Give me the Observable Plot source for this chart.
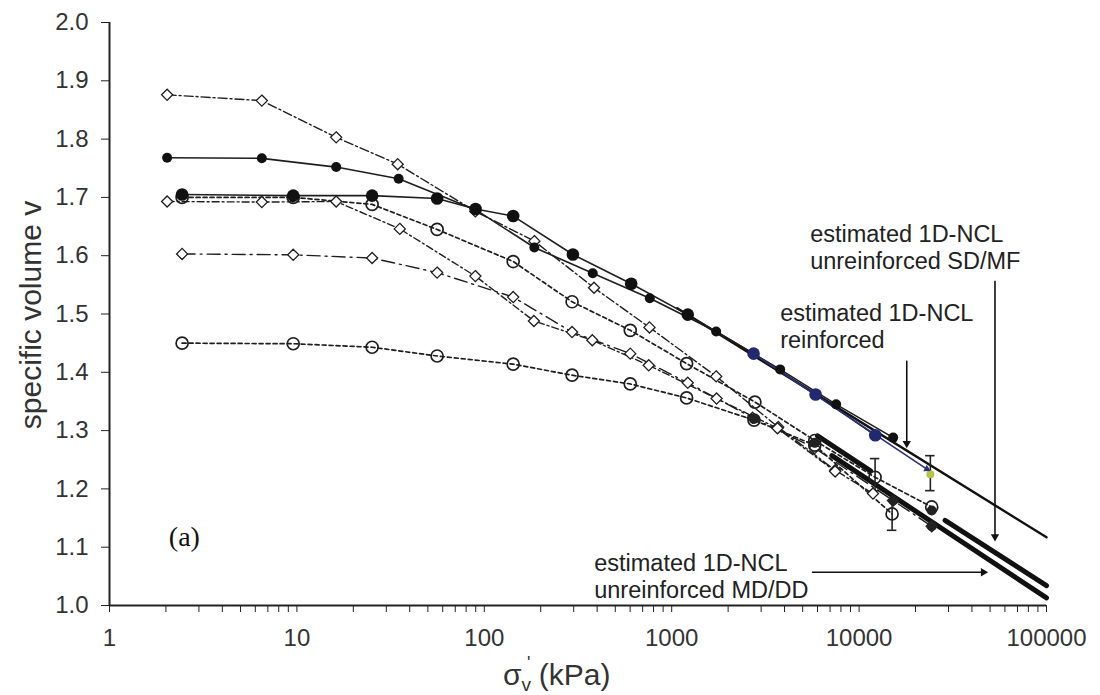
<!DOCTYPE html>
<html>
<head>
<meta charset="utf-8">
<script src="https://cdn.jsdelivr.net/npm/d3@7"></script>
<script src="https://cdn.jsdelivr.net/npm/@observablehq/plot@0.6"></script>
<style>
  html, body { margin: 0; padding: 0; background: #fff; }
  #chart { width: 1100px; height: 695px; }
</style>
</head>
<body>
<div id="chart"></div>
<script>
// ---------- axis ticks ----------
const yTicks = [1.0, 1.1, 1.2, 1.3, 1.4, 1.5, 1.6, 1.7, 1.8, 1.9, 2.0];
const xMajorTicks = [1, 10, 100, 1000, 10000, 100000];

// ---------- test series (vertical stress kPa, specific volume) ----------
// A: open diamonds, dash-dot (top)
const xA = [2.03, 6.5, 16.2, 34.5, 89.6, 185, 385, 761, 1727, 3700, 7450, 11860];
const vA = [1.876, 1.866, 1.803, 1.757, 1.676, 1.625, 1.545, 1.477, 1.393, 1.306, 1.232, 1.192];
// B: small filled circles, solid
const xB = [2.03, 6.5, 16.2, 34.9, 89.8, 185, 379, 764, 1727, 3790, 7540, 15200];
const vB = [1.768, 1.767, 1.752, 1.732, 1.679, 1.614, 1.570, 1.527, 1.470, 1.405, 1.345, 1.288];
// C: large filled circles, solid
const xC = [2.44, 9.56, 25.2, 56, 89.8, 142.6, 297, 608, 1218, 2735, 5860, 12200];
const vC = [1.705, 1.703, 1.703, 1.698, 1.680, 1.668, 1.602, 1.552, 1.499, 1.432, 1.362, 1.292];
// D: open diamonds, dash-dot
const xD = [2.03, 6.5, 16.2, 35.4, 89.6, 184, 377, 754, 1736, 3667, 7450];
const vD = [1.693, 1.692, 1.693, 1.646, 1.565, 1.488, 1.455, 1.412, 1.355, 1.304, 1.230];
// E: open circles, dashed
const xE = [2.44, 9.56, 25.2, 56, 142.6, 294, 601, 1201, 2780, 5800, 12170, 24400];
const vE = [1.700, 1.700, 1.688, 1.645, 1.590, 1.521, 1.472, 1.415, 1.349, 1.283, 1.220, 1.169];
// F: open diamonds, long dash-dot
const xF = [2.44, 9.56, 25.2, 56, 142.6, 294, 601, 1218, 2700, 5800, 15200, 24400];
const vF = [1.603, 1.6015, 1.596, 1.571, 1.529, 1.469, 1.432, 1.382, 1.322, 1.270, 1.180, 1.136];
// G: open circles, dashed (bottom)
const xG = [2.44, 9.56, 25.2, 56, 142.6, 294, 601, 1201, 2750, 5800, 15000];
const vG = [1.450, 1.449, 1.443, 1.428, 1.414, 1.395, 1.380, 1.356, 1.318, 1.275, 1.157];

// dark (filled) points in the high-stress cluster
const xDark = [2750, 5800, 15200, 24400, 24400];
const vDark = [1.320, 1.279, 1.180, 1.163, 1.136];

// error bars
const errX  = [12170, 15000, 24000];
const errLo = [1.197, 1.129, 1.197];
const errHi = [1.252, 1.180, 1.257];
// highlighted final point (reinforced)
const greenX = [24000];
const greenV = [1.225];

// trend arrow of reinforced test (navy)
const trendX = [2735, 23000];
const trendV = [1.432, 1.234];

// estimated 1D-NCLs
const nclReinfX = [1070, 100000];
const nclReinfV = [1.510, 1.117];
const nclSDMFX = [6000, 11500, 28760, 100000];
const nclSDMFV = [1.291, 1.231, 1.146, 1.034];
const nclSDMFSeg = [0, 0, 1, 1];
const nclMDDDX = [7160, 100000];
const nclMDDDV = [1.257, 1.013];

// annotations
const annText = ["estimated 1D-NCL\nunreinforced SD/MF", "estimated 1D-NCL\nreinforced", "estimated 1D-NCL\nunreinforced MD/DD"];
const annX = [5480, 3790, 386];
const annV = [1.615, 1.4794, 1.0515];
// annotation arrows (x1, v1) -> (x2, v2)
const arrX1 = [53100, 17960, 5600];
const arrV1 = [1.557, 1.420, 1.057];
const arrX2 = [53100, 17960, 46000];
const arrV2 = [1.118, 1.278, 1.057];
const arrRot = [180, 180, 90];

const panelLabel = "(a)";
const panelX = 2.51, panelV = 1.1166;

// ---------- build tables ----------
const zip = (s, xs, vs) => xs.map((x, i) => ({s, x, v: vs[i]}));
const A = zip("A", xA, vA), B = zip("B", xB, vB), C = zip("C", xC, vC),
      D = zip("D", xD, vD), E = zip("E", xE, vE), F = zip("F", xF, vF), G = zip("G", xG, vG);
const darkPts = zip("dark", xDark, vDark);
const errData = errX.map((x, i) => ({x, lo: errLo[i], hi: errHi[i]}));
const errCaps = errData.flatMap(d => [{x: d.x, v: d.lo}, {x: d.x, v: d.hi}]);
const greenData = greenX.map((x, i) => ({x, v: greenV[i]}));
const trendData = trendX.map((x, i) => ({x, v: trendV[i]}));
const nclReinf = nclReinfX.map((x, i) => ({x, v: nclReinfV[i]}));
const nclSDMF = nclSDMFX.map((x, i) => ({x, v: nclSDMFV[i], seg: nclSDMFSeg[i]}));
const nclMDDD = nclMDDDX.map((x, i) => ({x, v: nclMDDDV[i]}));
const annData = annText.map((t, i) => ({t, x: annX[i], v: annV[i]}));
const arrData = arrX1.map((x1, i) => ({x1, v1: arrV1[i], x2: arrX2[i], v2: arrV2[i], r: arrRot[i]}));

const xAllTicks = xMajorTicks.flatMap(d => d3.range(1, 10).map(k => k * d)).filter(t => t <= 100000);

const ink = "#1e1e1e";
const lineW = 1.4;

const chart = Plot.plot({
  width: 1100,
  height: 695,
  marginLeft: 109,
  marginRight: 54,
  marginTop: 22,
  marginBottom: 90,
  style: {fontFamily: "'Liberation Sans', Arial, sans-serif", background: "#fff", color: "#222"},
  x: {type: "log", domain: [1, 100000]},
  y: {domain: [1, 2]},
  marks: [
    // axes
    Plot.axisY({ticks: yTicks, tickFormat: d3.format(".1f"), tickSize: 8, tickPadding: 13, fontSize: 24, label: null, fill: "#333"}),
    Plot.axisX({ticks: xAllTicks, tickFormat: d => xMajorTicks.includes(d) ? String(d) : "", tickSize: 7, tickPadding: 16, fontSize: 24, label: null, fill: "#333"}),
    Plot.ruleX([1], {stroke: "#222", strokeWidth: 2}),
    Plot.ruleY([1], {stroke: "#222", strokeWidth: 2}),

    // NCLs
    Plot.line(nclReinf, {x: "x", y: "v", stroke: "#111", strokeWidth: 2.4}),
    Plot.line(nclSDMF, {x: "x", y: "v", z: "seg", stroke: "#111", strokeWidth: 5}),
    Plot.line(nclMDDD, {x: "x", y: "v", stroke: "#111", strokeWidth: 5}),

    // series lines
    Plot.line(A, {x: "x", y: "v", stroke: ink, strokeWidth: lineW, strokeDasharray: "9,3,2,3"}),
    Plot.line(D, {x: "x", y: "v", stroke: ink, strokeWidth: lineW, strokeDasharray: "7,3,2,3"}),
    Plot.line(F, {x: "x", y: "v", stroke: ink, strokeWidth: lineW, strokeDasharray: "13,5,2,5"}),
    Plot.line(E, {x: "x", y: "v", stroke: ink, strokeWidth: 1.7, strokeDasharray: "4,3"}),
    Plot.line(G, {x: "x", y: "v", stroke: ink, strokeWidth: 1.7, strokeDasharray: "4,3"}),
    Plot.line(B, {x: "x", y: "v", stroke: ink, strokeWidth: 1.6}),
    Plot.line(C, {x: "x", y: "v", stroke: ink, strokeWidth: 1.6}),
    Plot.line(trendData, {x: "x", y: "v", stroke: "#2a2f7a", strokeWidth: 1.6}),

    // error bars
    Plot.ruleX(errData, {x: "x", y1: "lo", y2: "hi", stroke: "#222", strokeWidth: 1.6}),
    Plot.ruleY(errCaps, {y: "v", x1: d => d.x / 1.06, x2: d => d.x * 1.06, stroke: "#222", strokeWidth: 1.6}),

    // markers
    Plot.dot(A, {x: "x", y: "v", symbol: "diamond2", r: 5, fill: "#fff", stroke: ink, strokeWidth: 1.3}),
    Plot.dot(D, {x: "x", y: "v", symbol: "diamond2", r: 5, fill: "#fff", stroke: ink, strokeWidth: 1.3}),
    Plot.dot(F, {x: "x", y: "v", symbol: "diamond2", r: 5, fill: "#fff", stroke: ink, strokeWidth: 1.3}),
    Plot.dot(E, {x: "x", y: "v", symbol: "circle", r: 6, fill: "none", stroke: ink, strokeWidth: 1.7}),
    Plot.dot(G, {x: "x", y: "v", symbol: "circle", r: 6, fill: "none", stroke: ink, strokeWidth: 1.7}),
    Plot.dot(darkPts, {x: "x", y: "v", symbol: "circle", r: 5, fill: "#222", stroke: "none"}),
    Plot.dot(B, {x: "x", y: "v", symbol: "circle", r: 5, fill: "#111", stroke: "none"}),
    Plot.dot(C, {x: "x", y: "v", symbol: "circle", r: 6.3, fill: d => d.x >= 2700 ? "#23296e" : "#111", stroke: "none"}),
    Plot.dot(greenData, {x: "x", y: "v", r: 4, fill: "#b5c44a", stroke: "none"}),

    // annotation arrows
    Plot.link(arrData, {x1: "x1", y1: "v1", x2: "x2", y2: "v2", stroke: "#111", strokeWidth: 1.6}),
    Plot.dot(arrData, {x: "x2", y: "v2", symbol: "triangle2", r: 4, rotate: "r", fill: "#111", stroke: "none"}),
    Plot.dot(trendData.slice(-1), {x: "x", y: "v", symbol: "triangle2", r: 3.5, rotate: 118, fill: "#2a2f7a"}),

    // annotation texts
    Plot.text(annData, {x: "x", y: "v", text: "t", textAnchor: "start", lineAnchor: "middle", lineHeight: 1.15, fontSize: 23.5, fill: "#222"}),
    Plot.text([panelLabel], {x: () => panelX, y: () => panelV, fontFamily: "'Liberation Serif', 'Times New Roman', serif", fontSize: 28, fill: "#111"})
  ]
});

document.getElementById("chart").appendChild(chart);

// axis titles
const svg = d3.select(chart);
svg.append("text")
  .attr("transform", "translate(30,315) rotate(-90)")
  .attr("text-anchor", "middle")
  .attr("dominant-baseline", "central")
  .attr("font-size", 30)
  .attr("fill", "#333")
  .text("specific volume v");

const xt = svg.append("text")
  .attr("x", 503).attr("y", 685)
  .attr("text-anchor", "start")
  .attr("font-size", 30)
  .attr("fill", "#333");
xt.append("tspan").text("σ");
xt.append("tspan").attr("dy", 6).attr("font-size", 19).text("v");
xt.append("tspan").attr("dx", -4).attr("dy", -22).attr("font-size", 18).text("'");
xt.append("tspan").attr("dy", 16).text(" (kPa)");
</script>
</body>
</html>
